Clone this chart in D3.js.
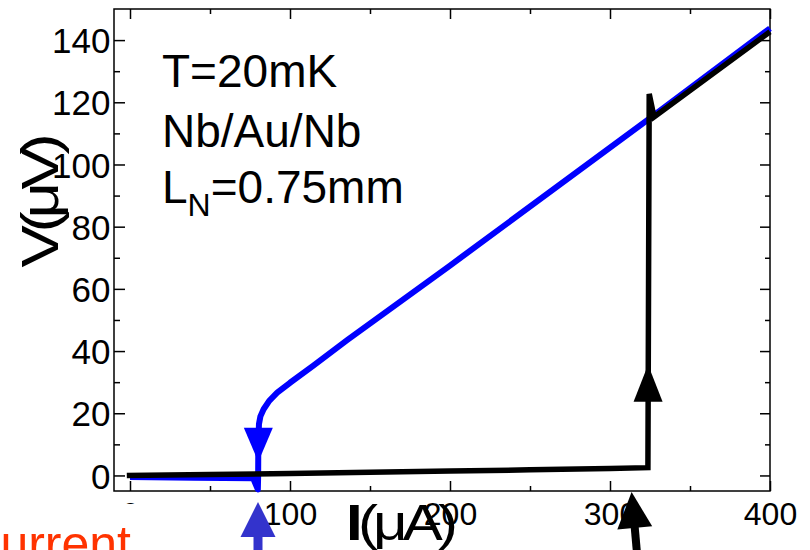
<!DOCTYPE html>
<html><head><meta charset="utf-8">
<script src="https://cdn.jsdelivr.net/npm/d3@7"></script>
<style>
body{margin:0;background:#fff}
text{font-family:"Liberation Sans",Arial,Helvetica,sans-serif;fill:#000}
</style>
</head><body>
<svg id="c" width="810" height="550"></svg>
<script>
// ---- data ----
// forward sweep (increasing current), black
const forwardI = [-2, 50, 100, 150, 200, 250, 300, 323.7, 324.5, 327.5, 400];
const forwardV = [0, 0.3, 0.6, 1.0, 1.4, 1.8, 2.2, 2.5, 122.7, 115.3, 142.7];
// return sweep (decreasing current), blue
const returnI = [400, 323.75, 200, 135.9, 114.6, 100, 92, 87, 83.5, 81.5, 80.6, 80.2, 80.1, 79.9, 77, 40, 0];
const returnV = [143.8, 114.4, 67.5, 43.6, 35.3, 29.8, 26.6, 24.0, 21.3, 19.0, 16.5, 10, 0, -4.5, -0.9, -0.7, -0.5];
const xTicks = [0, 100, 200, 300, 400];
const xMinor = [50, 150, 250, 350];
const yTicks = [0, 20, 40, 60, 80, 100, 120, 140];
const yMinor = [10, 30, 50, 70, 90, 110, 130];
const xTitle = ["I", "(μA)"];
const yTitle = "V(μV)";
const noteLines = ["T=20mK", "Nb/Au/Nb"];
const noteLN = ["L", "N", "=0.75mm"];
const bottomText = "current";
// arrowheads on the curves: [current, V at base, V at tip]
const curveArrows = [[80.2, 15.3, 4.4], [323.8, 23.7, 35.6]];
// annotation arrows under the axis (current positions)
const retrapI = 80, switchI = 313.5;

const svg = d3.select("#c");
const x = d3.scaleLinear().domain([-10, 400]).range([114, 770]);
const y = d3.scaleLinear().domain([-5, 150]).range([491, 9]);
const L = 114, R = 770, T = 9, B = 491;

// ---- axes ----
function ax(gen, tr, ticks, size, labels) {
  const g = svg.append("g").attr("transform", tr)
    .call(gen.tickValues(ticks).tickSize(size).tickSizeOuter(0)
      .tickFormat(labels ? d3.format("d") : () => ""));
  g.select(".domain").remove();
  g.selectAll(".tick line").attr("stroke", "#000").attr("stroke-width", 1.5);
  return g;
}
const gb = ax(d3.axisBottom(x).tickPadding(11), `translate(0,${B})`, xTicks, -10, true);
gb.selectAll("text").attr("font-size", 32).attr("font-family", "Liberation Sans, Arial, sans-serif").attr("fill", "#000");
ax(d3.axisBottom(x), `translate(0,${B})`, xMinor, -5, false);
ax(d3.axisTop(x), `translate(0,${T})`, xTicks, -10, false);
ax(d3.axisTop(x), `translate(0,${T})`, xMinor, -5, false);
const gl = ax(d3.axisLeft(y).tickPadding(3.5), `translate(${L},0)`, yTicks, -11, true);
gl.selectAll("text").attr("font-size", 35).attr("dy", "0.36em").attr("font-family", "Liberation Sans, Arial, sans-serif").attr("fill", "#000");
ax(d3.axisLeft(y), `translate(${L},0)`, yMinor, -6, false);
ax(d3.axisRight(y), `translate(${R},0)`, yTicks, -10, false);
ax(d3.axisRight(y), `translate(${R},0)`, yMinor, -5, false);

svg.append("rect").attr("x", L).attr("y", T).attr("width", R - L).attr("height", B - T)
  .attr("fill", "none").attr("stroke", "#000").attr("stroke-width", 1.5);

// ---- curves ----
const line = d3.line().x(d => x(d[0])).y(d => y(d[1]));
svg.append("path").datum(d3.zip(returnI, returnV)).attr("d", line)
  .attr("fill", "none").attr("stroke", "#0000ff").attr("stroke-width", 6).attr("stroke-linejoin", "round");
svg.append("path").datum(d3.zip(forwardI, forwardV)).attr("d", line)
  .attr("fill", "none").attr("stroke", "#000").attr("stroke-width", 5.5).attr("stroke-linejoin", "miter");

const arrowCol = ["#0000ff", "#000"];
curveArrows.forEach((a, i) => {
  const cx = x(a[0]), yb = y(a[1]), yt = y(a[2]), hw = 14.5;
  svg.append("path").attr("d", `M${cx - hw},${yb}L${cx + hw},${yb}L${cx},${yt}Z`).attr("fill", arrowCol[i]);
});

// ---- annotations ----
svg.append("text")
  .attr("transform", `translate(58,204) rotate(-90) scale(1.22,1)`)
  .attr("x", 0).attr("text-anchor", "middle").attr("font-size", 52)
  .attr("letter-spacing", -6).text(yTitle);

const xt = svg.append("text").attr("transform", "translate(346,540) scale(1.2,1)")
  .attr("font-size", 50).attr("letter-spacing", -4);
xt.append("tspan").attr("font-weight", "bold").text(xTitle[0]);
xt.append("tspan").text(xTitle[1]);

noteLines.forEach((t, i) => {
  svg.append("text").attr("x", 162).attr("y", 87 + i * 60).attr("font-size", 46).text(t);
});
const ln = svg.append("text").attr("x", 162).attr("y", 203).attr("font-size", 46);
ln.append("tspan").text(noteLN[0]);
ln.append("tspan").attr("font-size", 32).attr("dy", 13).text(noteLN[1]);
ln.append("tspan").attr("dy", -13).text(noteLN[2]);

// white text box at lower left with red text
svg.append("rect").attr("x", 0).attr("y", 504).attr("width", 240).attr("height", 46).attr("fill", "#fff");
svg.append("text").attr("x", 131).attr("y", 561).attr("text-anchor", "end")
  .attr("font-size", 50).style("fill", "#ff3300").text(bottomText);

// annotation arrows pointing up at the axis
function upArrow(tipX, tipY, botX, botY, headLen, hw, sw, col) {
  const dx = tipX - botX, dy = tipY - botY, len = Math.hypot(dx, dy);
  const ux = dx / len, uy = dy / len, px = -uy, py = ux;
  const bx = tipX - ux * headLen, by = tipY - uy * headLen;
  svg.append("line").attr("x1", botX).attr("y1", botY).attr("x2", bx + ux * 2).attr("y2", by + uy * 2)
    .attr("stroke", col).attr("stroke-width", sw);
  svg.append("path").attr("d", `M${tipX},${tipY}L${bx + px * hw},${by + py * hw}L${bx - px * hw},${by - py * hw}Z`)
    .attr("fill", col);
}
upArrow(x(retrapI), B + 11, x(retrapI), 560, 35, 17.5, 9, "#3333cc");
upArrow(x(switchI), B + 1, x(switchI) + 6, 560, 36, 17.5, 8, "#000");
</script>
</body></html>
